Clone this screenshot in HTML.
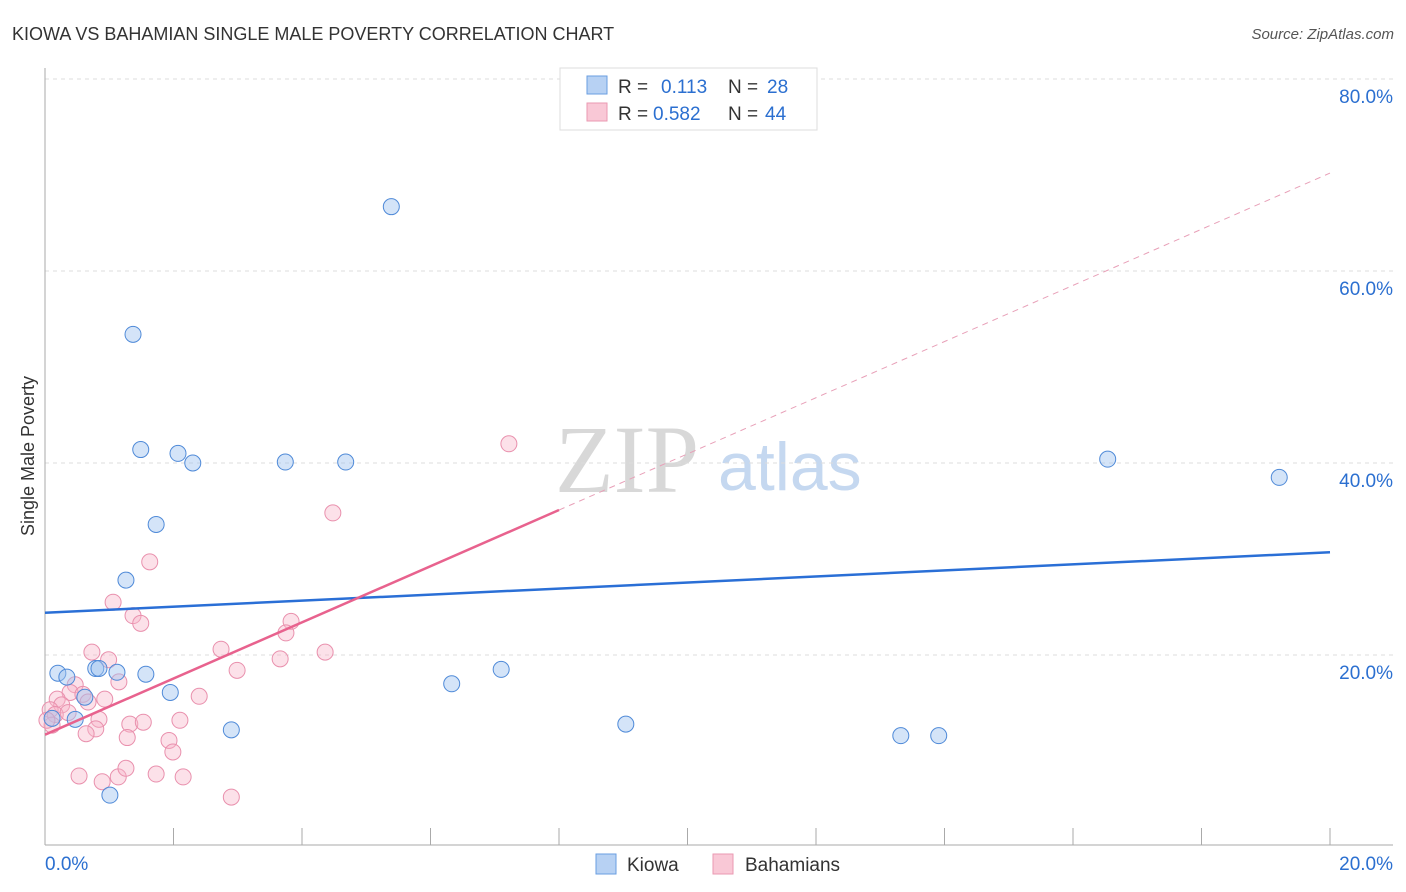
<!DOCTYPE html>
<html><head><meta charset="utf-8"><style>
body{margin:0;background:#fff;font-family:"Liberation Sans",sans-serif;}
svg{display:block}
</style></head><body>
<svg width="1406" height="892" id="chart">
<text x="12" y="40" font-size="18" fill="#333">KIOWA VS BAHAMIAN SINGLE MALE POVERTY CORRELATION CHART</text>
<text x="1394" y="39" font-size="15" fill="#555" font-style="italic" text-anchor="end">Source: ZipAtlas.com</text>
<text x="555" y="492" font-size="96" fill="#d8d8d8" font-family="Liberation Serif">ZIP</text>
<text x="718" y="490" font-size="68" fill="#c5d8f0">atlas</text>
<g id="grid"></g><g id="axes"></g><g id="lines"></g><g id="pts"></g>
<g>
<rect x="560" y="68" width="257" height="62" fill="#fff" stroke="#ddd"/>
<rect x="587" y="76" width="20" height="18" fill="#b7d1f3" stroke="#6a9ee0"/>
<rect x="587" y="103" width="20" height="18" fill="#f9c8d6" stroke="#ea99b2"/>
<text x="618" y="93" font-size="19" fill="#333">R = </text><text x="661" y="93" font-size="19" fill="#2b6fd0">0.113</text>
<text x="728" y="93" font-size="19" fill="#333">N = </text><text x="767" y="93" font-size="19" fill="#2b6fd0">28</text>
<text x="618" y="120" font-size="19" fill="#333">R = </text><text x="653" y="120" font-size="19" fill="#2b6fd0">0.582</text>
<text x="728" y="120" font-size="19" fill="#333">N = </text><text x="765" y="120" font-size="19" fill="#2b6fd0">44</text>
</g>
<g>
<rect x="596" y="854" width="20" height="20" fill="#b7d1f3" stroke="#6a9ee0"/>
<text x="627" y="871" font-size="19" fill="#333">Kiowa</text>
<rect x="713" y="854" width="20" height="20" fill="#f9c8d6" stroke="#ea99b2"/>
<text x="745" y="871" font-size="19" fill="#333">Bahamians</text>
</g>
</svg>
<script>
const yTicks=[20,40,60,80];
const yTickLabels=["20.0%","40.0%","60.0%","80.0%"];
const xTickLabels=["0.0%","20.0%"];
const kiowaX=[5.39,1.37,1.49,2.07,2.30,3.74,4.68,16.54,19.21,1.73,1.26,0.20,0.34,0.79,0.84,1.12,1.57,0.62,1.95,0.47,2.90,1.01,6.33,7.10,9.04,13.32,13.91,0.11];
const kiowaY=[66.7,53.4,41.4,41.0,40.0,40.1,40.1,40.4,38.5,33.6,27.8,18.1,17.7,18.6,18.6,18.2,18.0,15.6,16.1,13.3,12.2,5.4,17.0,18.5,12.8,11.6,11.6,13.4];
const bahX=[7.22,4.48,1.63,1.06,1.37,1.49,3.83,3.75,0.73,2.74,4.36,0.99,3.66,2.99,1.15,0.47,0.39,0.59,0.19,0.93,2.40,0.26,0.67,0.08,0.16,0.11,0.84,1.32,1.53,2.10,0.79,0.64,1.28,1.93,1.99,0.53,0.89,1.14,1.26,1.73,2.15,2.90,0.03,0.36];
const bahY=[42.0,34.8,29.7,25.5,24.1,23.3,23.5,22.3,20.3,20.6,20.3,19.5,19.6,18.4,17.2,16.9,16.1,15.9,15.4,15.4,15.7,14.8,15.1,14.3,13.8,12.7,13.3,12.8,13.0,13.2,12.3,11.8,11.4,11.1,9.9,7.4,6.8,7.3,8.2,7.6,7.3,5.2,13.2,14.0];
const kiowaTrend=[24.4,30.7];
const bahTrend=[11.7,70.2];
const bahSolidEnd=8.0;
const NS="http://www.w3.org/2000/svg";
const sx=v=>45+v/20*1285, sy=v=>847-v*9.6;
function mk(tag,attrs,parent){const e=document.createElementNS(NS,tag);for(const k in attrs)e.setAttribute(k,attrs[k]);document.getElementById(parent).appendChild(e);return e;}
yTicks.forEach((t,i)=>{
 const l=mk('line',{x1:45,x2:1393,y1:sy(t),y2:sy(t),stroke:'#ddd','stroke-dasharray':'4,4'},'grid');
 
 
 const tx=mk('text',{x:1393,y:sy(t)+24,'font-size':19,fill:'#2b6fd0','text-anchor':'end'},'grid');tx.textContent=yTickLabels[i];
 
 
});
const ax=mk('line',{x1:45,x2:45,y1:68,y2:845,stroke:'#aaa'},'axes');


const bx=mk('line',{x1:45,x2:1393,y1:845,y2:845,stroke:'#aaa'},'axes');


for(let i=0;i<=10;i++){const t=mk('line',{x1:sx(i*2),x2:sx(i*2),y1:828,y2:845,stroke:'#aaa'},'axes');
 
 }
[[0,'start',45],[1,'end',1393]].forEach(([i,a,x])=>{const t=mk('text',{x:x,y:870,'font-size':19,fill:'#2b6fd0','text-anchor':a},'axes');t.textContent=xTickLabels[i];
 
 });
const yt=mk('text',{x:0,y:0,'font-size':18,fill:'#333','text-anchor':'middle',transform:'translate(34,456) rotate(-90)'},'axes');yt.textContent='Single Male Poverty';


const bs=bahTrend[0]+(bahTrend[1]-bahTrend[0])*bahSolidEnd/20;
const d1=mk('line',{x1:sx(bahSolidEnd),y1:sy(bs),x2:sx(20),y2:sy(bahTrend[1]),stroke:'#e8a0b8','stroke-dasharray':'6,5','stroke-width':1},'lines');


const pts=document.getElementById('pts');
bahX.forEach((x,i)=>{const c=mk('circle',{cx:sx(x),cy:sy(bahY[i]),r:8,fill:'rgba(248,180,200,0.4)',stroke:'#e990ad','stroke-width':1},'pts');
 
 });
kiowaX.forEach((x,i)=>{const c=mk('circle',{cx:sx(x),cy:sy(kiowaY[i]),r:8,fill:'rgba(160,196,240,0.45)',stroke:'#4f8ad8','stroke-width':1},'pts');
 
 });
const kl=mk('line',{x1:sx(0),y1:sy(kiowaTrend[0]),x2:sx(20),y2:sy(kiowaTrend[1]),stroke:'#2a6fd6','stroke-width':2.5},'pts');


const bl=mk('line',{x1:sx(0),y1:sy(bahTrend[0]),x2:sx(bahSolidEnd),y2:sy(bs),stroke:'#e8628e','stroke-width':2.5},'pts');


</script>
</body></html>
